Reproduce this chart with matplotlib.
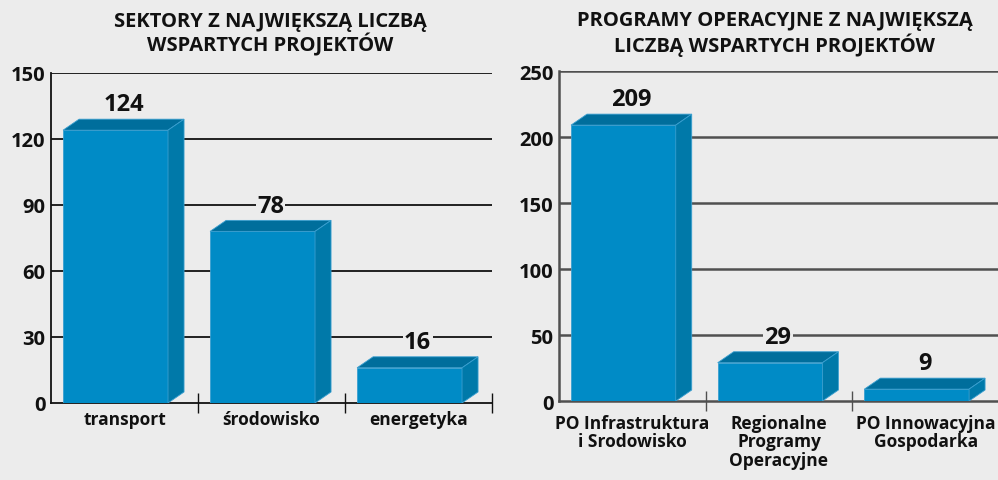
import matplotlib.pyplot as plt
from matplotlib.patches import Polygon

plt.rcParams['font.family'] = ['Open Sans', 'DejaVu Sans']
plt.rcParams['font.weight'] = 'bold'

# data
sectors = ['transport', 'środowisko', 'energetyka']
sector_counts = [124, 78, 16]
sector_ticks = [0, 30, 60, 90, 120, 150]

programs = ['PO Infrastruktura\ni Srodowisko', 'Regionalne\nProgramy\nOperacyjne',
            'PO Innowacyjna\nGospodarka']
program_counts = [209, 29, 9]
program_ticks = [0, 50, 100, 150, 200, 250]

title_left = 'SEKTORY Z NAJWIĘKSZĄ LICZBĄ\nWSPARTYCH PROJEKTÓW'
title_right = 'PROGRAMY OPERACYJNE Z NAJWIĘKSZĄ\nLICZBĄ WSPARTYCH PROJEKTÓW'

bg = '#ececec'
front_c = '#008bc6'
top_c = '#006e9c'
side_c = '#0079a9'
edge_c = '#3a9fd0'


def bars3d(ax, labels, values, ticks, line_c, line_w, xpad):
    ymax = ticks[-1]
    dx = 0.109
    dy = ymax * 11 / 330
    w = 0.714
    ax.set_facecolor(bg)
    ax.set_xlim(-0.5, len(values) - 0.5)
    ax.set_ylim(0, ymax)
    for t in ticks[1:]:
        ax.axhline(t, color=line_c, lw=line_w, zorder=1)
    for i, v in enumerate(values):
        x0 = i - 0.5 + 0.082
        x1 = x0 + w
        ax.bar(x0, v, width=w, align='edge', color=front_c, edgecolor=edge_c,
               lw=0.6, zorder=3)
        ax.add_patch(Polygon([(x0, v), (x0 + dx, v + dy), (x1 + dx, v + dy), (x1, v)],
                             closed=True, fc=top_c, ec=edge_c, lw=0.6, zorder=3))
        ax.add_patch(Polygon([(x1, 0), (x1 + dx, dy), (x1 + dx, v + dy), (x1, v)],
                             closed=True, fc=side_c, ec=edge_c, lw=0.6, zorder=3))
        # label box hides gridlines but sits under the bar
        ax.annotate(str(v), ((x0 + x1 + dx) / 2, v + dy), xytext=(0, 2),
                    textcoords='offset points', ha='center', va='bottom',
                    fontsize=17, fontweight='bold', color='#111111', zorder=2,
                    bbox=dict(fc=bg, ec='none', pad=1))
    for s in ['top', 'right']:
        ax.spines[s].set_visible(False)
    ax.spines['left'].set_color(line_c)
    ax.spines['left'].set_linewidth(line_w)
    ax.spines['bottom'].set_color(line_c)
    ax.spines['bottom'].set_linewidth(line_w)
    ax.set_yticks(ticks)
    ax.set_yticklabels([str(t) for t in ticks], fontsize=14.5, fontweight='bold',
                       color='#111111')
    ax.tick_params(axis='y', length=0, pad=4)
    ax.set_xticks(range(len(values)))
    ax.set_xticklabels(labels, fontsize=12.5, fontweight='bold', color='#111111',
                       linespacing=1.05)
    ax.tick_params(axis='x', which='major', length=0, pad=xpad)
    ax.set_xticks([i + 0.5 for i in range(len(values))], minor=True)
    ax.tick_params(axis='x', which='minor', direction='inout', length=14,
                   width=1, color=line_c)


fig = plt.figure(figsize=(9.98, 4.81), dpi=100, facecolor=bg)

ax1 = fig.add_axes([0.0511, 0.1601, 0.4419, 0.6861])
bars3d(ax1, sectors, sector_counts, sector_ticks, '#111111', 1.3, 5)

ax2 = fig.add_axes([0.5601, 0.1642, 0.4409, 0.6861])
bars3d(ax2, programs, program_counts, program_ticks, '#505050', 1.8, 9)

fig.text(0.2705, 0.929, title_left, ha='center', va='center', fontsize=14.5,
         fontweight='bold', color='#111111', linespacing=1.12)
fig.text(0.7765, 0.929, title_right, ha='center', va='center', fontsize=14.5,
         fontweight='bold', color='#111111', linespacing=1.12)

fig.savefig('out.png', dpi=100, facecolor=bg)
